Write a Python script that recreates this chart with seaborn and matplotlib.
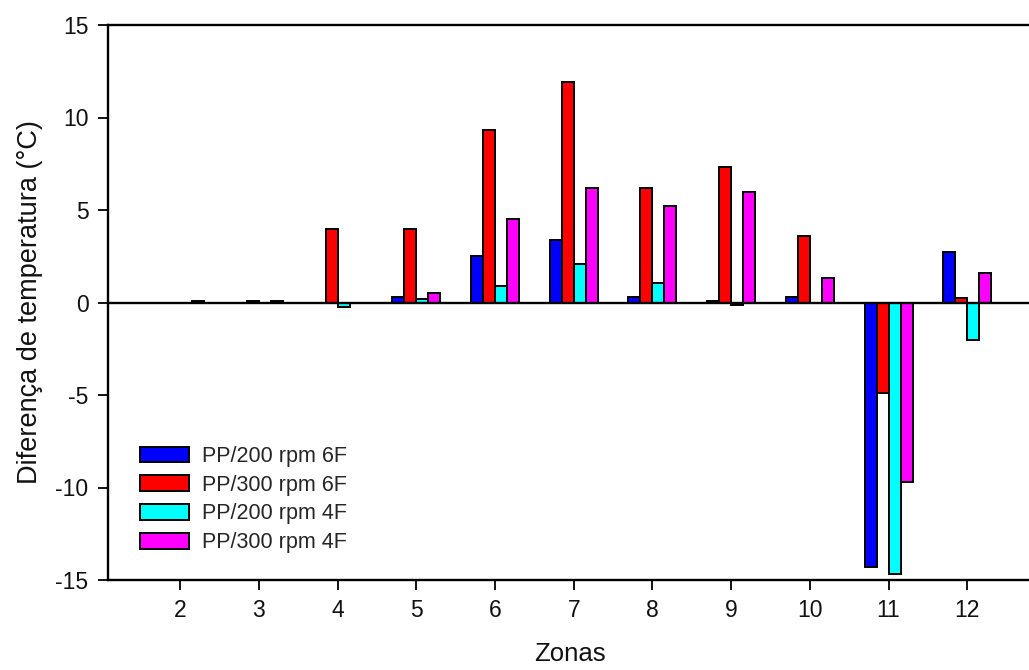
import matplotlib
matplotlib.use("Agg")
import matplotlib.pyplot as plt
import seaborn as sns
import pandas as pd

sns.set_style("white")
plt.rcParams["font.family"] = ["Liberation Sans", "DejaVu Sans"]
plt.rcParams["axes.unicode_minus"] = False

zones = ["2", "3", "4", "5", "6", "7", "8", "9", "10", "11", "12"]
series = ["PP/200 rpm 6F", "PP/300 rpm 6F", "PP/200 rpm 4F", "PP/300 rpm 4F"]
pp200_6f = [0.0, 0.0, 0.0, 0.3, 2.5, 3.4, 0.3, 0.1, 0.3, -14.3, 2.75]
pp300_6f = [0.0, 0.1, 4.0, 4.0, 9.3, 11.9, 6.2, 7.3, 3.6, -4.9, 0.25]
pp200_4f = [0.0, 0.0, -0.25, 0.2, 0.9, 2.1, 1.05, -0.15, 0.0, -14.7, -2.0]
pp300_4f = [0.1, 0.1, 0.0, 0.5, 4.5, 6.2, 5.2, 6.0, 1.3, -9.7, 1.6]
colors = ["#0000FF", "#FF0000", "#00FFFF", "#FF00FF"]

rows = []
for name, vals in zip(series, [pp200_6f, pp300_6f, pp200_4f, pp300_4f]):
    for z, v in zip(zones, vals):
        rows.append({"Zona": z, "Serie": name, "Valor": v})
df = pd.DataFrame(rows)

fig = plt.figure(figsize=(10.29, 6.70), dpi=100)
ax = fig.add_axes([108 / 1029, 90 / 670, 1 - 108 / 1029 + 0.002, 555 / 670])

sns.barplot(data=df, x="Zona", y="Valor", hue="Serie", order=zones,
            hue_order=series, palette=colors, width=0.61, edgecolor="black",
            linewidth=1.4, saturation=1, errorbar=None, ax=ax, legend=True)

ax.axhline(0, color="black", linewidth=1.7, zorder=5)
ax.set_xlim(-0.916, 10.81)
ax.set_ylim(-15, 15)
ax.set_yticks([-15, -10, -5, 0, 5, 10, 15])

for side in ["left", "bottom", "top"]:
    ax.spines[side].set_visible(True)
    ax.spines[side].set_color("black")
    ax.spines[side].set_linewidth(1.7)
ax.spines["right"].set_visible(False)

ax.tick_params(axis="both", which="major", direction="out", length=7,
               width=1.3, color="black", labelsize=16.5, labelcolor="#111111",
               pad=7, left=True, bottom=True)
ax.set_xlabel("Zonas", fontsize=18.5, labelpad=14, color="#111111")
ax.set_ylabel("Diferença de temperatura (°C)", fontsize=19.5, labelpad=9,
              color="#111111")

handles, labels = ax.get_legend_handles_labels()
ax.legend(handles, labels, loc="upper left",
          bbox_to_anchor=(140 / 1029, 1 - 446 / 670),
          bbox_transform=fig.transFigure, frameon=False, fontsize=15.5,
          handlelength=2.28, handleheight=0.74, handletextpad=0.6,
          labelspacing=0.36, borderpad=0, borderaxespad=0)

fig.savefig("out.png", dpi=100)
